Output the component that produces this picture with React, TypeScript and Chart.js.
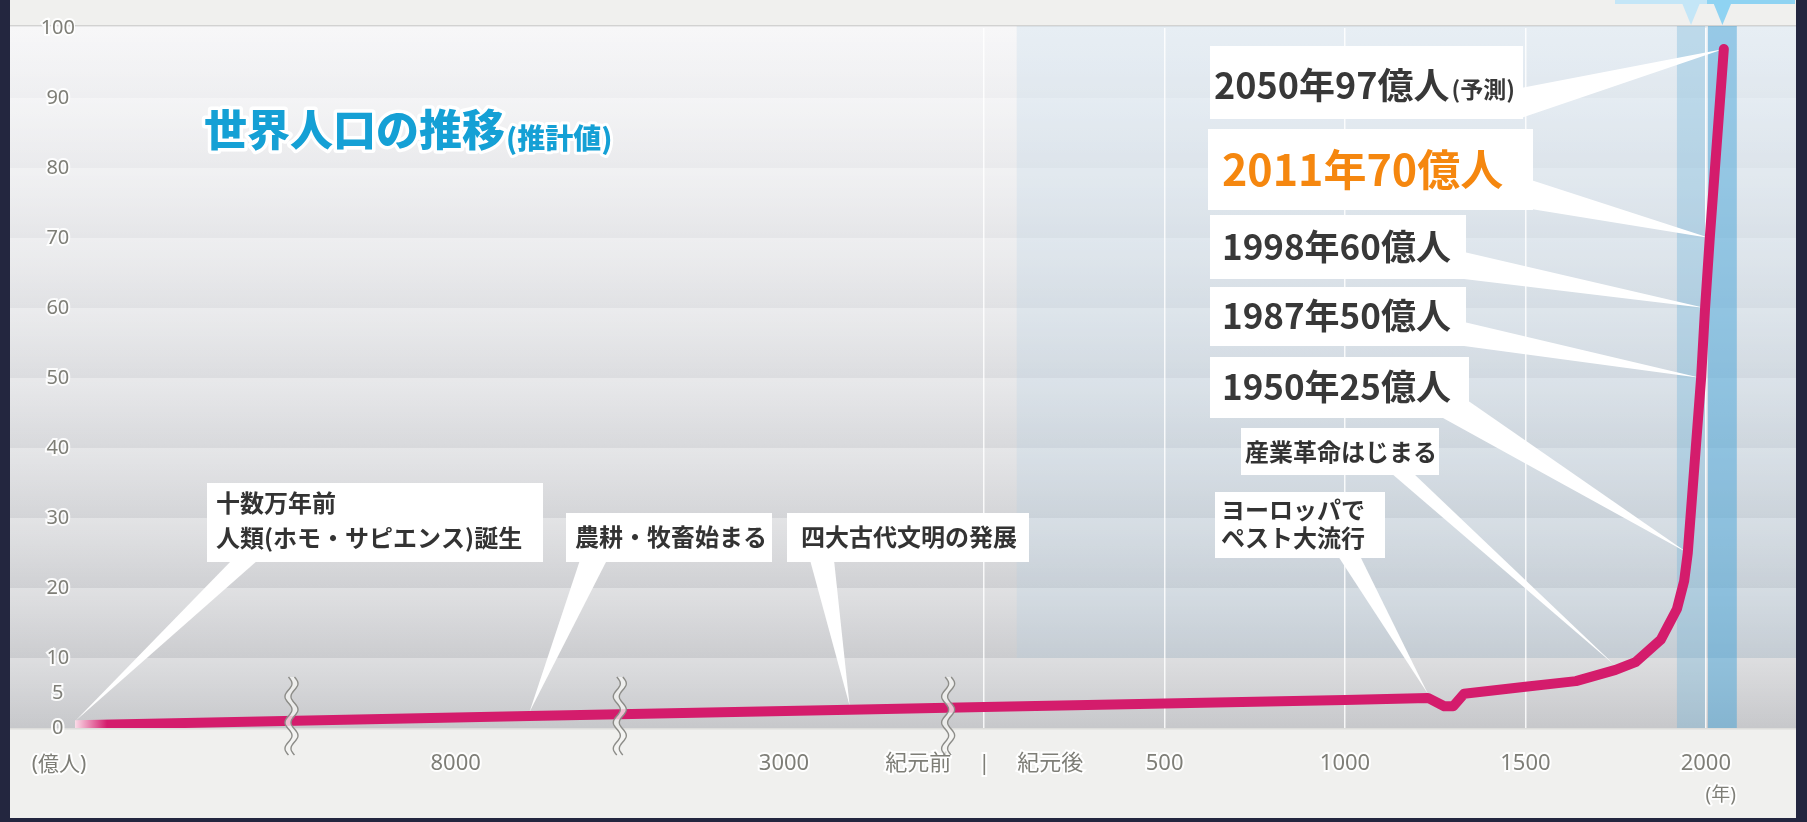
import { useEffect, useRef } from 'react';
import { Chart, registerables } from 'chart.js';

Chart.register(...registerables);

// ---------------- data ----------------
// years (negative = BC) and world population (億人)
const YEARS = [-200000, -7100, -2200, 0, 500, 1000, 1230, 1275, 1300, 1330, 1500, 1640, 1750, 1805, 1875, 1920, 1940, 1950, 1987, 1998, 2011, 2050];
const POPULATION = [0.4, 1.7, 2.6, 3.0, 3.5, 4.0, 4.3, 3.1, 3.1, 4.9, 5.9, 6.7, 8.3, 9.4, 12.6, 17, 21, 25, 50, 60, 70, 97];

const Y_TICKS = [0, 5, 10, 20, 30, 40, 50, 60, 70, 80, 90, 100];
const X_TICK_YEARS = [-8000, -3000, 0, 500, 1000, 1500, 2000];
const X_TICK_TEXT = ['8000', '3000', '|', '500', '1000', '1500', '2000'];
const ERA_LABELS = ['紀元前', '紀元後'];
const GRID_YEARS = [0, 500, 1000, 1500, 2000];

// broken time axis: BC segments (real years) and their widths in axis units (1 unit = 1 AD year)
const BC_SEGMENTS = [[-200000, -10000], [-10000, -6000], [-5000, -1000], [-100, 0]];
const BC_SEGMENT_UNITS = [600, 910, 910, 100];
const X_MAX_YEAR = 2250;

const CENTURY_BANDS = [[1920, 1998], [2006, 2086]];
const TINT_FROM_YEAR = 90;
const TINT_FROM_VALUE = 10;

const TITLE = '世界人口の推移';
const SUBTITLE = '(推計値)';
const Y_UNIT = '(億人)';
const X_UNIT = '(年)';

const EVENT_TEXT = [
  ['十数万年前', '人類(ホモ・サピエンス)誕生'],
  ['農耕・牧畜始まる'],
  ['四大古代文明の発展'],
  ['ヨーロッパで', 'ペスト大流行'],
  ['産業革命はじまる'],
];
const EVENT_POINT = [0, 1, 2, 6, 12];
const MILESTONE_POINT = [21, 20, 19, 18, 17];
const PROJECTION_NOTE = '(予測)';

// ---------------- layout (px) ----------------
const EVENT_BOX = [
  { x: 207, y: 483, w: 336, h: 79, tx: 216, lines: [503, 538], base: [[232, 562], [258, 562]] },
  { x: 566, y: 513, w: 206, h: 49, tx: 575, lines: [537], base: [[580, 562], [607, 562]] },
  { x: 787, y: 513, w: 242, h: 49, tx: 801, lines: [537], base: [[810, 562], [834, 562]] },
  { x: 1215, y: 492, w: 170, h: 66, tx: 1221, lines: [510, 538], base: [[1338, 558], [1360, 558]] },
  { x: 1241, y: 428, w: 198, h: 47, tx: 1245, lines: [452], base: [[1391, 475], [1413, 475]] },
];
const MILESTONE_BOX = [
  { x: 1210, y: 46, w: 313, h: 73, tx: 1214, ty: 85, size: 36, color: '#383838', base: [[1523, 88], [1523, 118]] },
  { x: 1208, y: 129, w: 325, h: 81, tx: 1222, ty: 170, size: 43, color: '#f5870f', base: [[1533, 180], [1533, 209]] },
  { x: 1210, y: 215, w: 256, h: 64, tx: 1222, ty: 247, size: 35, color: '#383838', base: [[1466, 252], [1466, 279]] },
  { x: 1210, y: 287, w: 256, h: 59, tx: 1222, ty: 316, size: 35, color: '#383838', base: [[1466, 322], [1466, 346]] },
  { x: 1210, y: 357, w: 259, h: 61, tx: 1222, ty: 387, size: 35, color: '#383838', base: [[1445, 418], [1469, 400]] },
];

const CJK = '"Noto Sans CJK JP", "Noto Sans", sans-serif';
const TICK_FAMILY = '"Noto Sans", "Noto Sans CJK JP", sans-serif';
const TICK_COLOR = '#7e7e77';
const LINE_COLOR = '#d41c6c';

function toAxis(year: number): number {
  if (year >= 0) return year;
  let start = -BC_SEGMENT_UNITS.reduce((a, b) => a + b, 0);
  for (let i = 0; i < BC_SEGMENTS.length; i++) {
    const [a, b] = BC_SEGMENTS[i];
    const u = BC_SEGMENT_UNITS[i];
    if (year <= b) {
      const f = Math.max(0, (year - a) / (b - a));
      return start + f * u;
    }
    start += u;
  }
  return 0;
}
const X_MIN = -BC_SEGMENT_UNITS.reduce((a, b) => a + b, 0);

function buildXTicks() {
  const list: { pos: number; label: string }[] = X_TICK_YEARS.map((yr, i) => ({ pos: toAxis(yr), label: X_TICK_TEXT[i] }));
  const eraOffset = 183;
  list.push({ pos: -eraOffset, label: ERA_LABELS[0] });
  list.push({ pos: eraOffset, label: ERA_LABELS[1] });
  list.sort((a, b) => a.pos - b.pos);
  return list;
}
const X_TICKS = buildXTicks();

function strokeFillText(ctx: CanvasRenderingContext2D, text: string, x: number, y: number, fill: string, stroke: string | null, sw: number) {
  if (stroke) {
    ctx.lineJoin = 'round';
    ctx.lineWidth = sw;
    ctx.strokeStyle = stroke;
    ctx.strokeText(text, x, y);
  }
  ctx.fillStyle = fill;
  ctx.fillText(text, x, y);
}

const backgroundPlugin = {
  id: 'backgroundPlugin',
  beforeDraw(chart: any) {
    const { ctx, chartArea: ca, scales } = chart;
    const xs = scales.x;
    const ys = scales.y;
    const W = chart.width;
    const H = chart.height;
    const frameLeft = ca.left - ys.width;
    const frameRight = ca.right;
    const frameBottom = H - 4;
    const plotTop = ca.top - 2;
    ctx.save();
    ctx.fillStyle = '#23263f';
    ctx.fillRect(0, 0, W, H);
    ctx.fillStyle = '#f0f0ee';
    ctx.fillRect(frameLeft, 0, frameRight - frameLeft, frameBottom);

    // plot gradient
    const g = ctx.createLinearGradient(0, plotTop, 0, ca.bottom);
    g.addColorStop(0, '#f3f3f5');
    g.addColorStop(0.5, '#dcdde0');
    g.addColorStop(1, '#c7c8cb');
    ctx.fillStyle = g;
    ctx.fillRect(frameLeft, plotTop, frameRight - frameLeft, ca.bottom - plotTop);

    // horizontal soft bands
    for (let v = 0; v < 100; v += 10) {
      const yt = v + 10 >= 100 ? plotTop : ys.getPixelForValue(v + 10);
      const yb = ys.getPixelForValue(v);
      const sg = ctx.createLinearGradient(0, yt, 0, yb);
      sg.addColorStop(0, 'rgba(255,255,255,0.35)');
      sg.addColorStop(1, 'rgba(255,255,255,0)');
      ctx.fillStyle = sg;
      ctx.fillRect(frameLeft, yt, frameRight - frameLeft, yb - yt);
    }

    // bluish tint of the AD side
    const tx = xs.getPixelForValue(toAxis(TINT_FROM_YEAR));
    const ty = ys.getPixelForValue(TINT_FROM_VALUE);
    ctx.fillStyle = 'rgba(170,205,232,0.2)';
    ctx.fillRect(tx, plotTop, frameRight - tx, ty - plotTop);

    // century bands
    const bandColors = ['rgba(100,175,215,0.32)', 'rgba(60,160,215,0.47)'];
    CENTURY_BANDS.forEach(([a, b], i) => {
      const x1 = xs.getPixelForValue(toAxis(a));
      const x2 = xs.getPixelForValue(toAxis(b));
      ctx.fillStyle = bandColors[i];
      ctx.fillRect(x1, plotTop, x2 - x1, ca.bottom - plotTop);
    });

    // header markers above the bands
    const headColors = ['#c4e6f7', '#8fd3f2'];
    const headSpan = [[1615, 1707], [1707, frameRight - 1]];
    CENTURY_BANDS.forEach(([a, b], i) => {
      const x1 = xs.getPixelForValue(toAxis(a));
      const x2 = xs.getPixelForValue(toAxis(b));
      const cx = (x1 + x2) / 2;
      ctx.fillStyle = headColors[i];
      ctx.fillRect(headSpan[i][0], 0, headSpan[i][1] - headSpan[i][0], 4);
      ctx.beginPath();
      ctx.moveTo(cx - 9, 3);
      ctx.lineTo(cx + 9, 3);
      ctx.lineTo(cx, plotTop - 1);
      ctx.closePath();
      ctx.fill();
    });

    // top and bottom border lines of plot
    ctx.fillStyle = 'rgba(0,0,0,0.12)';
    ctx.fillRect(frameLeft, plotTop - 1, frameRight - frameLeft, 1.5);
    ctx.fillStyle = 'rgba(0,0,0,0.08)';
    ctx.fillRect(frameLeft, ca.bottom, frameRight - frameLeft, 1.5);
    ctx.restore();
  },
};

const calloutPlugin = {
  id: 'calloutPlugin',
  beforeDatasetsDraw(chart: any) {
    const { ctx, scales } = chart;
    const xs = scales.x;
    const ys = scales.y;
    const px = (i: number) => xs.getPixelForValue(toAxis(YEARS[i]));
    const py = (i: number) => ys.getPixelForValue(POPULATION[i]);
    ctx.save();

    // title
    ctx.textBaseline = 'middle';
    ctx.textAlign = 'left';
    ctx.font = `900 43px ${CJK}`;
    strokeFillText(ctx, TITLE, 204, 130, '#15a0d5', '#ffffff', 7);
    const tw = ctx.measureText(TITLE).width;
    ctx.font = `900 28px ${CJK}`;
    strokeFillText(ctx, SUBTITLE, 204 + tw + 1, 138, '#15a0d5', '#ffffff', 6);

    // event callouts
    EVENT_BOX.forEach((b, k) => {
      const i = EVENT_POINT[k];
      const tipX = px(i);
      const tipY = py(i) - 4;
      ctx.fillStyle = '#ffffff';
      ctx.beginPath();
      ctx.moveTo(b.base[0][0], b.base[0][1] - 2);
      ctx.lineTo(b.base[1][0], b.base[1][1] - 2);
      ctx.lineTo(tipX, tipY);
      ctx.closePath();
      ctx.fill();
      ctx.fillRect(b.x, b.y, b.w, b.h);
      ctx.font = `bold 24px ${CJK}`;
      ctx.textBaseline = 'middle';
      EVENT_TEXT[k].forEach((line, j) => {
        ctx.fillStyle = '#333333';
        ctx.fillText(line, b.tx, b.lines[j]);
      });
    });

    // milestone callouts
    MILESTONE_BOX.forEach((b, k) => {
      const i = MILESTONE_POINT[k];
      const tipX = px(i);
      const tipY = py(i);
      ctx.fillStyle = '#ffffff';
      ctx.beginPath();
      ctx.moveTo(b.base[0][0] - 2, b.base[0][1]);
      ctx.lineTo(b.base[1][0] - 2, b.base[1][1]);
      ctx.lineTo(tipX, tipY);
      ctx.closePath();
      ctx.fill();
      ctx.fillRect(b.x, b.y, b.w, b.h);
      const label = `${YEARS[i]}年${POPULATION[i]}億人`;
      ctx.font = `bold ${b.size}px ${CJK}`;
      ctx.textBaseline = 'middle';
      ctx.fillStyle = b.color;
      ctx.fillText(label, b.tx, b.ty);
      if (YEARS[i] > 2020) {
        const w = ctx.measureText(label).width;
        ctx.font = `bold 23px ${CJK}`;
        ctx.fillText(PROJECTION_NOTE, b.tx + w + 2, b.ty + 4);
      }
    });
    ctx.restore();
  },
  afterDatasetsDraw(chart: any) {
    const { ctx, chartArea: ca, scales } = chart;
    const xs = scales.x;
    ctx.save();
    // axis breaks
    const breaks: number[] = [];
    let acc = X_MIN;
    for (let i = 0; i < BC_SEGMENT_UNITS.length - 1; i++) {
      acc += BC_SEGMENT_UNITS[i];
      breaks.push(acc);
    }
    const y0 = ca.bottom - 51;
    const y1 = ca.bottom + 27;
    const amp = 3.5;
    const period = 26;
    breaks.forEach((u) => {
      const cx = xs.getPixelForValue(u);
      const curve = (dx: number, reverse: boolean) => {
        const pts: [number, number][] = [];
        for (let yy = y0; yy <= y1; yy += 1) {
          pts.push([cx + dx + amp * Math.sin(((yy - y0) / period) * Math.PI * 2), yy]);
        }
        return reverse ? pts.reverse() : pts;
      };
      const left = curve(-3, false);
      const right = curve(3, true);
      ctx.beginPath();
      left.forEach(([x, y], n) => (n ? ctx.lineTo(x, y) : ctx.moveTo(x, y)));
      right.forEach(([x, y]) => ctx.lineTo(x, y));
      ctx.closePath();
      ctx.fillStyle = 'rgba(245,245,243,0.75)';
      ctx.fill();
      ctx.strokeStyle = '#8c8c88';
      ctx.lineWidth = 1.4;
      [left, right].forEach((pts) => {
        ctx.beginPath();
        pts.forEach(([x, y], n) => (n ? ctx.lineTo(x, y) : ctx.moveTo(x, y)));
        ctx.stroke();
      });
    });

    // unit labels
    ctx.textAlign = 'center';
    ctx.textBaseline = 'middle';
    ctx.font = `21px ${TICK_FAMILY}`;
    strokeFillText(ctx, Y_UNIT, 59, ca.bottom + 37, TICK_COLOR, 'rgba(255,255,255,0.9)', 4);
    ctx.font = `19px ${TICK_FAMILY}`;
    strokeFillText(ctx, X_UNIT, xs.getPixelForValue(toAxis(2000)) + 15, ca.bottom + 68, TICK_COLOR, 'rgba(255,255,255,0.9)', 4);
    ctx.restore();
  },
};

export default function App() {
  const canvasRef = useRef<HTMLCanvasElement | null>(null);

  useEffect(() => {
    const canvas = canvasRef.current;
    if (!canvas) return;
    const chart = new Chart(canvas, {
      type: 'line',
      data: {
        datasets: [
          {
            data: YEARS.map((yr, i) => ({ x: toAxis(yr), y: POPULATION[i] })),
            borderWidth: 10,
            borderCapStyle: 'round',
            borderJoinStyle: 'round',
            pointRadius: 0,
            tension: 0,
            borderColor: (c: any) => {
              const ca = c.chart.chartArea;
              if (!ca) return LINE_COLOR;
              const g = c.chart.ctx.createLinearGradient(ca.left, 0, ca.left + 32, 0);
              g.addColorStop(0, 'rgba(250,220,232,1)');
              g.addColorStop(1, LINE_COLOR);
              return g;
            },
          } as any,
        ],
      },
      options: {
        responsive: false,
        animation: false,
        devicePixelRatio: 1,
        layout: { padding: { left: 10, right: 11, top: 28, bottom: 4 } },
        plugins: { legend: { display: false }, tooltip: { enabled: false } },
        scales: {
          x: {
            type: 'linear',
            min: X_MIN,
            max: X_MAX_YEAR,
            afterBuildTicks: (s: any) => {
              s.ticks = X_TICKS.map((t) => ({ value: t.pos }));
            },
            afterFit: (s: any) => {
              s.height = 90;
            },
            ticks: {
              autoSkip: false,
              maxRotation: 0,
              padding: 23,
              font: { family: TICK_FAMILY, size: 22 },
              color: TICK_COLOR,
              textStrokeColor: 'rgba(255,255,255,0.9)',
              textStrokeWidth: 4,
              callback: (_v: any, i: number) => X_TICKS[i].label,
            },
            grid: {
              drawTicks: false,
              lineWidth: 1.5,
              color: (c: any) =>
                c.tick && GRID_YEARS.some((yr) => Math.abs(toAxis(yr) - c.tick.value) < 1e-6)
                  ? 'rgba(255,255,255,0.85)'
                  : 'rgba(0,0,0,0)',
            },
            border: { display: false },
          },
          y: {
            type: 'linear',
            min: 0,
            max: 100,
            afterBuildTicks: (s: any) => {
              s.ticks = Y_TICKS.map((v) => ({ value: v }));
            },
            afterFit: (s: any) => {
              s.width = 65;
            },
            ticks: {
              crossAlign: 'center',
              padding: 0,
              font: { family: TICK_FAMILY, size: 20 },
              color: TICK_COLOR,
              textStrokeColor: 'rgba(255,255,255,0.9)',
              textStrokeWidth: 4,
            },
            grid: { display: false, drawTicks: false },
            border: { display: false },
          },
        },
      } as any,
      plugins: [backgroundPlugin, calloutPlugin],
    });
    return () => chart.destroy();
  }, []);

  return (
    <div style={{ position: 'absolute', left: 0, top: 0, width: 1807, height: 822 }}>
      <canvas ref={canvasRef} width={1807} height={822} style={{ display: 'block', width: 1807, height: 822 }} />
    </div>
  );
}
